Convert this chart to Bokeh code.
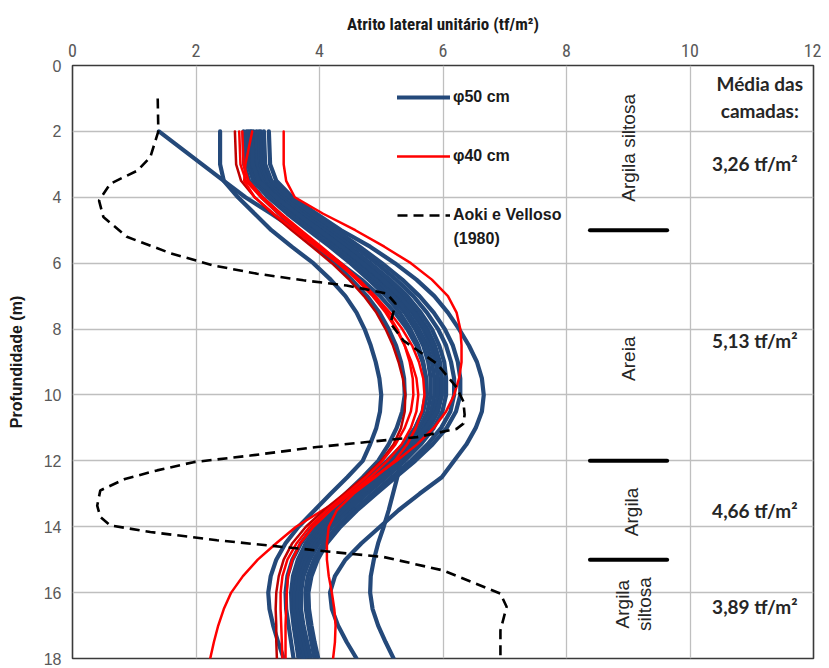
import math
from bokeh.plotting import figure
from bokeh.models import Range1d, Legend, LegendItem, Label, FixedTicker
from bokeh.core.properties import value
from bokeh.embed import file_html
from bokeh.resources import INLINE

# ---------------- data ----------------
depth = [2, 3, 3.5, 4, 4.5, 5, 5.5, 6, 6.5, 7, 7.5, 8, 8.5, 9, 9.5, 10, 10.5, 11, 11.5,
         12, 12.5, 13, 13.5, 14, 14.5, 15, 15.5, 16, 16.5, 17, 17.5, 18]

phi50 = [
    [1.40, 2.10, 2.45, 2.80, 3.22, 3.62, 3.98, 4.33, 4.68, 4.98, 5.22, 5.42, 5.57, 5.67, 5.73, 5.74,
     5.68, 5.55, 5.36, 5.10, 4.80, 4.50, 4.22, 3.98, 3.80, 3.68, 3.60, 3.57, 3.58, 3.62, 3.68, 3.74],
    [2.39, 2.39, 2.45, 2.68, 2.95, 3.22, 3.55, 3.90, 4.18, 4.42, 4.60, 4.73, 4.83, 4.91, 4.97, 5.00,
     4.98, 4.92, 4.82, 4.70, 4.45, 4.18, 3.92, 3.66, 3.45, 3.30, 3.21, 3.17, 3.19, 3.25, 3.33, 3.42],
    [2.77, 2.78, 2.86, 3.07, 3.35, 3.65, 3.95, 4.25, 4.52, 4.77, 4.97, 5.12, 5.24, 5.32, 5.37, 5.38,
     5.34, 5.25, 5.12, 4.95, 4.70, 4.42, 4.15, 3.90, 3.70, 3.56, 3.48, 3.45, 3.46, 3.50, 3.54, 3.58],
    [2.82, 2.84, 2.93, 3.17, 3.48, 3.82, 4.17, 4.50, 4.80, 5.08, 5.30, 5.47, 5.60, 5.68, 5.72, 5.72,
     5.67, 5.55, 5.36, 5.10, 4.80, 4.50, 4.22, 3.97, 3.78, 3.65, 3.57, 3.54, 3.55, 3.58, 3.62, 3.66],
    [2.85, 2.87, 2.96, 3.21, 3.53, 3.88, 4.23, 4.57, 4.88, 5.15, 5.38, 5.55, 5.68, 5.76, 5.80, 5.80,
     5.75, 5.62, 5.43, 5.17, 4.87, 4.56, 4.28, 4.02, 3.83, 3.69, 3.60, 3.57, 3.58, 3.61, 3.66, 3.70],
    [2.88, 2.90, 2.99, 3.25, 3.58, 3.93, 4.28, 4.62, 4.93, 5.21, 5.43, 5.61, 5.74, 5.82, 5.86, 5.86,
     5.81, 5.68, 5.48, 5.22, 4.92, 4.61, 4.33, 4.07, 3.87, 3.73, 3.64, 3.61, 3.62, 3.65, 3.69, 3.74],
    [2.93, 2.95, 3.05, 3.30, 3.62, 3.98, 4.34, 4.68, 5.00, 5.28, 5.50, 5.68, 5.80, 5.88, 5.92, 5.92,
     5.86, 5.72, 5.52, 5.26, 4.96, 4.65, 4.36, 4.10, 3.90, 3.75, 3.65, 3.60, 3.60, 3.64, 3.70, 3.77],
    [2.98, 3.00, 3.10, 3.36, 3.69, 4.05, 4.41, 4.75, 5.07, 5.35, 5.57, 5.75, 5.87, 5.95, 5.98, 5.98,
     5.92, 5.78, 5.58, 5.32, 5.02, 4.71, 4.41, 4.15, 3.94, 3.79, 3.69, 3.65, 3.65, 3.69, 3.75, 3.81],
    [3.02, 3.04, 3.14, 3.41, 3.75, 4.12, 4.48, 4.82, 5.14, 5.42, 5.64, 5.82, 5.94, 6.02, 6.05, 6.05,
     5.99, 5.85, 5.64, 5.38, 5.08, 4.77, 4.47, 4.20, 3.99, 3.84, 3.74, 3.70, 3.70, 3.74, 3.80, 3.86],
    [2.90, 2.92, 3.01, 3.30, 3.64, 4.00, 4.36, 4.70, 5.02, 5.30, 5.53, 5.72, 5.85, 5.94, 5.98, 5.98,
     5.90, 5.72, 5.45, 5.32, 5.26, 5.19, 5.12, 5.04, 4.95, 4.88, 4.83, 4.82, 4.86, 4.95, 5.07, 5.20],
    [3.18, 3.20, 3.30, 3.56, 3.95, 4.35, 4.82, 5.22, 5.57, 5.86, 6.08, 6.26, 6.42, 6.55, 6.63, 6.66,
     6.63, 6.53, 6.38, 6.18, 5.98, 5.62, 5.28, 4.98, 4.68, 4.42, 4.25, 4.17, 4.20, 4.30, 4.44, 4.60],
    [3.05, 3.07, 3.17, 3.46, 3.82, 4.20, 4.57, 4.92, 5.24, 5.52, 5.74, 5.92, 6.05, 6.13, 6.18, 6.18,
     6.12, 5.97, 5.75, 5.48, 5.17, 4.86, 4.55, 4.28, 4.06, 3.91, 3.81, 3.77, 3.78, 3.82, 3.87, 3.92],
    [3.10, 3.12, 3.22, 3.52, 3.88, 4.27, 4.65, 5.01, 5.34, 5.62, 5.85, 6.03, 6.16, 6.24, 6.28, 6.28,
     6.21, 6.06, 5.83, 5.55, 5.23, 4.92, 4.61, 4.34, 4.12, 3.97, 3.87, 3.82, 3.83, 3.87, 3.92, 3.98],
]

phi40 = [
    [3.42, 3.42, 3.46, 3.60, 4.06, 4.58, 5.05, 5.48, 5.82, 6.08, 6.22, 6.28, 6.30, 6.30, 6.26, 6.18,
     6.05, 5.85, 5.58, 5.25, 4.88, 4.48, 4.05, 3.62, 3.30, 3.00, 2.76, 2.57, 2.45, 2.36, 2.29, 2.23],
    [2.63, 2.65, 2.73, 2.95, 3.24, 3.55, 3.88, 4.20, 4.48, 4.72, 4.92, 5.07, 5.19, 5.28, 5.35, 5.39,
     5.38, 5.32, 5.20, 5.00, 4.72, 4.40, 4.07, 3.78, 3.56, 3.42, 3.34, 3.30, 3.29, 3.30, 3.30, 3.31],
    [2.70, 2.72, 2.81, 3.05, 3.34, 3.66, 3.99, 4.31, 4.60, 4.86, 5.07, 5.24, 5.38, 5.49, 5.57, 5.60,
     5.57, 5.48, 5.33, 5.10, 4.82, 4.50, 4.18, 3.90, 3.69, 3.56, 3.49, 3.47, 3.46, 3.45, 3.45, 3.45],
    [2.91, 2.80, 2.78, 2.95, 3.26, 3.60, 3.95, 4.30, 4.62, 4.90, 5.14, 5.34, 5.50, 5.61, 5.68, 5.70,
     5.66, 5.56, 5.42, 5.22, 4.90, 4.55, 4.28, 4.15, 4.12, 4.12, 4.15, 4.20, 4.24, 4.26, 4.25, 4.22],
    [2.75, 2.77, 2.85, 3.08, 3.38, 3.70, 4.03, 4.35, 4.64, 4.90, 5.10, 5.26, 5.38, 5.46, 5.51, 5.52,
     5.48, 5.38, 5.23, 5.02, 4.75, 4.44, 4.12, 3.84, 3.63, 3.48, 3.40, 3.37, 3.37, 3.38, 3.39, 3.40],
]
phi40_colors = ["#FF0000", "#C00000", "#FF0000", "#FF0000", "#FF0000"]

aoki_x = [1.38, 1.39, 1.26, 1.05, 0.61, 0.43, 0.50, 0.88, 1.59, 2.28, 2.99, 3.74, 4.44, 5.09,
          5.23, 5.15, 5.36, 5.90, 6.22, 6.33, 6.35, 6.33, 6.22, 5.58, 4.77, 3.96, 2.88, 1.96,
          1.37, 0.85, 0.45, 0.40, 0.45, 0.61, 1.26, 2.34, 3.96, 5.04, 6.01, 6.93, 7.03, 6.93, 6.93]
aoki_depth = [1.0, 2.0, 2.78, 3.19, 3.59, 4.1, 4.6, 5.2, 5.7, 6.07, 6.32, 6.52, 6.68, 6.92,
              7.23, 7.83, 8.35, 9.05, 9.77, 10.2, 10.6, 10.87, 11.03, 11.28, 11.43, 11.58, 11.84, 12.04,
              12.29, 12.55, 12.9, 13.36, 13.7, 13.96, 14.16, 14.41, 14.72, 14.92, 15.33, 16.03, 16.43, 17.15, 18.0]

x_ticks = [0, 2, 4, 6, 8, 10, 12]
y_ticks = [0, 2, 4, 6, 8, 10, 12, 14, 16, 18]

layer_bounds = [5, 12, 15]
layer_names = ["Argila siltosa", "Areia", "Argila", "Argila", "siltosa"]
layer_name_x = [9.0, 9.0, 9.05, 8.91, 9.27]
layer_name_depth = [2.5, 8.9, 13.55, 16.35, 16.35]

mean_labels = ["3,26 tf/m²", "5,13 tf/m²", "4,66 tf/m²", "3,89 tf/m²"]
mean_depth = [2.97, 8.35, 13.5, 16.42]
mean_title = ["Média das", "camadas:"]
mean_title_depth = [0.55, 1.37]

NARROW = "'Liberation Sans Narrow', 'Arial Narrow', 'Roboto Condensed', 'Noto Sans Condensed', 'Liberation Sans', sans-serif"

# ---------------- figure ----------------
p = figure(width=821, height=668, x_range=Range1d(0, 12), y_range=Range1d(18, 0),
           x_axis_location="above", output_backend="svg", toolbar_location=None,
           min_border_left=72, min_border_top=65, min_border_right=8, min_border_bottom=10)

p.outline_line_color = "#3a3a3a"
p.outline_line_width = 1.6
p.background_fill_color = "white"
p.border_fill_color = "white"

p.xaxis.ticker = FixedTicker(ticks=x_ticks)
p.yaxis.ticker = FixedTicker(ticks=y_ticks)
for ax in (p.xaxis[0], p.yaxis[0]):
    ax.axis_line_color = None
    ax.major_tick_line_color = None
    ax.minor_tick_line_color = None
    ax.major_tick_out = 0
    ax.major_tick_in = 0
    ax.major_label_text_color = "#595959"
    ax.axis_label_text_color = "#1a1a1a"
    ax.axis_label_text_font_style = "bold"

p.xaxis.axis_label = "Atrito lateral unitário (tf/m²)"
p.xaxis.major_label_text_font = NARROW
p.xaxis.major_label_text_font_size = "18px"
p.xaxis.axis_label_text_font = NARROW
p.xaxis.axis_label_text_font_size = "17px"
p.xaxis.major_label_standoff = 9
p.xaxis.axis_label_standoff = 7

p.yaxis.axis_label = "Profundidade (m)"
p.yaxis.major_label_text_font = "Liberation Sans"
p.yaxis.major_label_text_font_size = "16px"
p.yaxis.axis_label_text_font = "Liberation Sans"
p.yaxis.axis_label_text_font_size = "16px"
p.yaxis.major_label_standoff = 11
p.yaxis.axis_label_standoff = 16

p.grid.grid_line_color = "#BFBFBF"
p.grid.grid_line_width = 1.3

# measured curves
blue_r = None
for xs in phi50:
    r = p.line(xs, depth, line_color="#24497A", line_width=4.2, line_join="round", line_cap="round")
    if blue_r is None:
        blue_r = r
red_r = None
for xs, c in zip(phi40, phi40_colors):
    r = p.line(xs, depth, line_color=c, line_width=2.5, line_join="round", line_cap="round")
    if red_r is None:
        red_r = r

aoki_r = p.line(aoki_x, aoki_depth, line_color="black", line_width=2.6, line_dash="10 6")

# layer boundaries
p.segment(x0=[8.38] * len(layer_bounds), x1=[9.63] * len(layer_bounds),
          y0=layer_bounds, y1=layer_bounds, line_color="black", line_width=4, line_cap="round")

for t, lx, ld in zip(layer_names, layer_name_x, layer_name_depth):
    p.add_layout(Label(x=lx, y=ld, text=t, angle=math.pi / 2, text_align="center",
                       text_baseline="middle", text_font="Liberation Sans",
                       text_font_size="19px", text_color="#262626"))

p.text(x=[11.13] * 2, y=mean_title_depth, text=mean_title, text_align="center",
       text_baseline="middle", text_font=value("Lato"), text_font_style="bold",
       text_font_size="19px", text_color="#262626")
p.text(x=[11.05] * len(mean_labels), y=mean_depth, text=mean_labels, text_align="center",
       text_baseline="middle", text_font=value("Lato"), text_font_style="bold",
       text_font_size="19px", text_color="#262626")

# legend
legend = Legend(items=[
    LegendItem(label="φ50 cm", renderers=[blue_r]),
    LegendItem(label="φ40 cm", renderers=[red_r]),
    LegendItem(label="Aoki e Velloso", renderers=[aoki_r]),
], location=(325, 433), orientation="vertical")
legend.border_line_color = None
legend.background_fill_alpha = 0
legend.glyph_width = 53
legend.glyph_height = 20
legend.label_height = 20
legend.spacing = 39
legend.padding = 10
legend.margin = 0
legend.label_standoff = 3
legend.label_text_font = "Liberation Sans"
legend.label_text_font_style = "bold"
legend.label_text_font_size = "16px"
legend.label_text_color = "#1a1a1a"
p.add_layout(legend)

p.add_layout(Label(x=6.17, y=5.25, text="(1980)", text_align="left", text_baseline="middle",
                   text_font="Liberation Sans", text_font_style="bold",
                   text_font_size="16px", text_color="#1a1a1a"))

open("out.html", "w").write(file_html(p, INLINE))
